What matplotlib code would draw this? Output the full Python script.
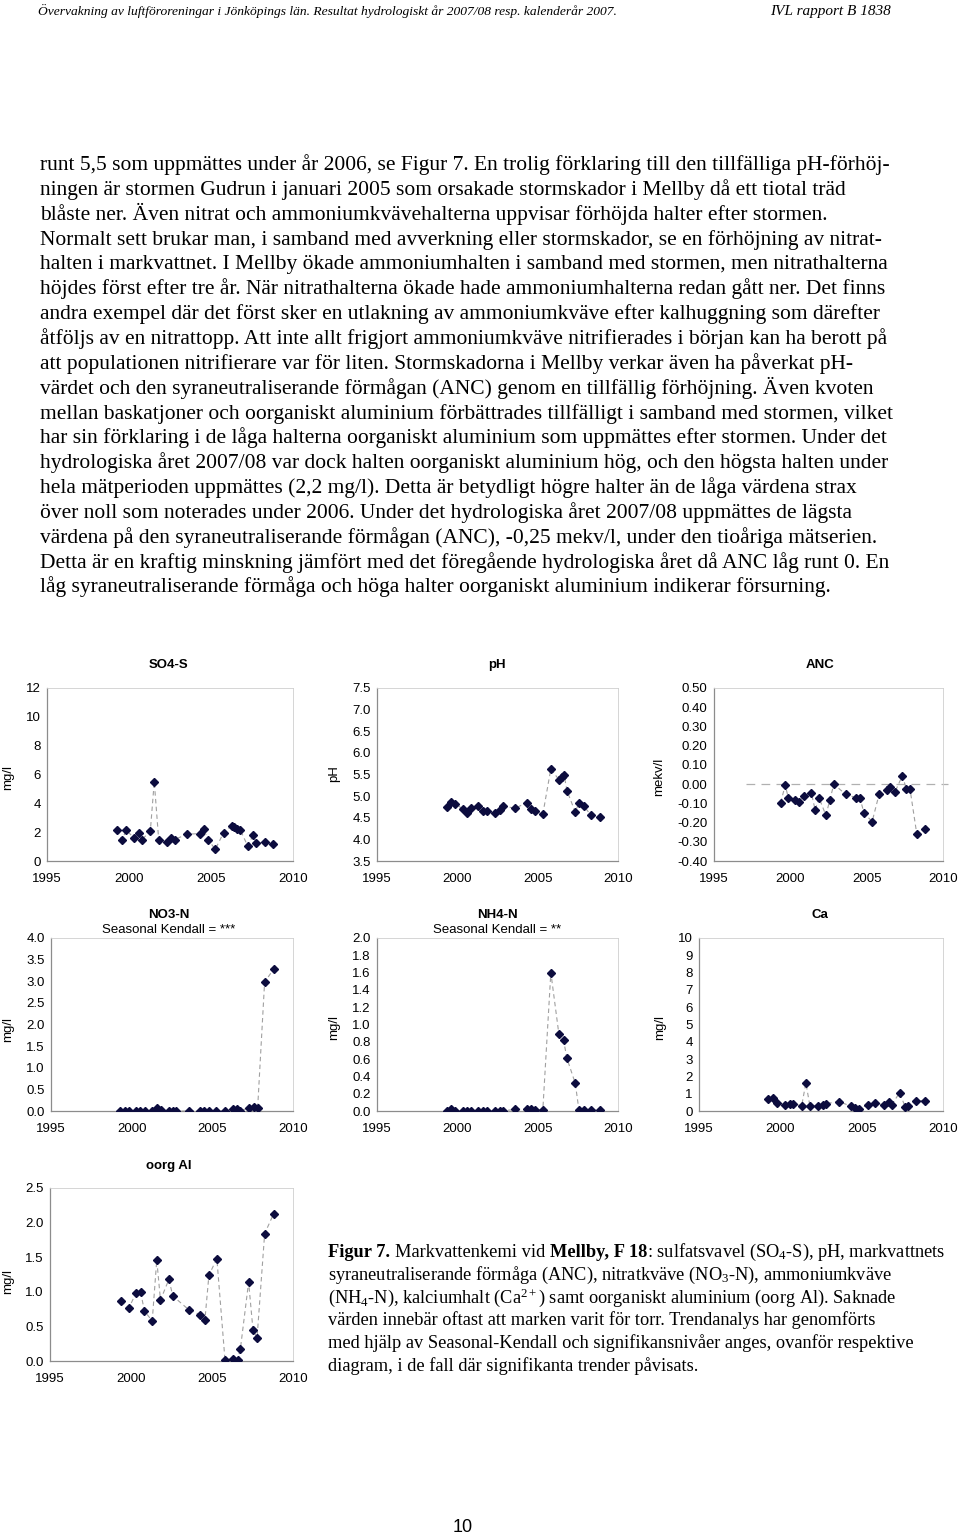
import matplotlib
matplotlib.use('Agg')
import matplotlib.pyplot as plt

plt.rcParams['font.family'] = ['Liberation Sans', 'DejaVu Sans']
plt.rcParams['mathtext.fontset'] = 'custom'
plt.rcParams['mathtext.rm'] = 'Liberation Serif'
plt.rcParams['mathtext.bf'] = 'Liberation Serif:bold'
plt.rcParams['mathtext.it'] = 'Liberation Serif:italic'
plt.rcParams['mathtext.default'] = 'regular'

# ---- chart data ----
so4_years = [1999.27, 1999.57, 1999.84, 2000.28, 2000.59, 2000.79, 2001.30, 2001.54, 2001.81,
             2002.32, 2002.58, 2002.78, 2003.54, 2004.31, 2004.55, 2004.82, 2005.26, 2005.77,
             2006.28, 2006.38, 2006.59, 2006.79, 2007.24, 2007.56, 2007.76, 2008.27, 2008.78]
so4_vals = [2.14, 1.49, 2.14, 1.62, 1.95, 1.49, 2.07, 5.50, 1.49, 1.30, 1.62, 1.49, 1.86, 1.90,
            2.20, 1.49, 0.81, 1.97, 2.46, 2.37, 2.20, 2.14, 1.04, 1.79, 1.25, 1.30, 1.18]

ph_years = [1999.33, 1999.60, 1999.85, 2000.33, 2000.58, 2000.85, 2001.30, 2001.62, 2001.82,
            2002.34, 2002.66, 2002.82, 2003.61, 2004.32, 2004.57, 2004.84, 2005.32, 2005.82,
            2006.32, 2006.52, 2006.65, 2006.82, 2007.34, 2007.57, 2007.86, 2008.31, 2008.85]
ph_vals = [4.75, 4.87, 4.82, 4.71, 4.60, 4.72, 4.77, 4.65, 4.65, 4.61, 4.68, 4.77, 4.72, 4.85,
           4.71, 4.65, 4.58, 5.63, 5.38, 5.45, 5.48, 5.13, 4.63, 4.85, 4.78, 4.56, 4.51]

anc_years = [1999.36, 1999.67, 1999.86, 2000.32, 2000.58, 2000.89, 2001.37, 2001.63, 2001.87,
             2002.33, 2002.59, 2002.85, 2003.63, 2004.29, 2004.55, 2004.83, 2005.36, 2005.81,
             2006.32, 2006.55, 2006.86, 2007.34, 2007.60, 2007.84, 2008.28, 2008.84]
anc_vals = [-0.097, -0.005, -0.070, -0.084, -0.094, -0.061, -0.044, -0.136, -0.070, -0.162,
            -0.082, 0.000, -0.054, -0.070, -0.070, -0.151, -0.195, -0.054, -0.033, -0.017,
            -0.040, 0.044, -0.026, -0.026, -0.258, -0.235]

no3_years = [1999.30, 1999.57, 1999.83, 2000.29, 2000.54, 2000.81, 2001.26, 2001.57, 2001.82,
             2002.29, 2002.56, 2002.77, 2003.57, 2004.26, 2004.50, 2004.77, 2005.25, 2005.81,
             2006.28, 2006.53, 2006.74, 2007.25, 2007.56, 2007.81, 2008.24, 2008.80]
no3_vals = [0.0, 0.0, 0.0, 0.0, 0.0, 0.0, 0.01, 0.07, 0.02, 0.0, 0.0, 0.0, 0.0, 0.0, 0.0, 0.0,
            0.0, 0.0, 0.05, 0.05, 0.0, 0.08, 0.10, 0.08, 2.98, 3.28]

nh4_years = [1999.33, 1999.60, 1999.85, 2000.33, 2000.58, 2000.85, 2001.30, 2001.62, 2001.82,
             2002.34, 2002.66, 2002.82, 2003.61, 2004.32, 2004.57, 2004.84, 2005.32, 2005.82,
             2006.32, 2006.61, 2006.82, 2007.34, 2007.57, 2007.86, 2008.31, 2008.85]
nh4_vals = [0.0, 0.02, 0.0, 0.0, 0.0, 0.0, 0.0, 0.0, 0.0, 0.0, 0.0, 0.0, 0.02, 0.02, 0.02, 0.01,
            0.01, 1.60, 0.89, 0.82, 0.61, 0.32, 0.01, 0.01, 0.01, 0.01]

ca_years = [1999.25, 1999.52, 1999.81, 2000.28, 2000.59, 2000.79, 2001.31, 2001.57, 2001.82,
            2002.34, 2002.60, 2002.81, 2003.59, 2004.33, 2004.60, 2004.86, 2005.36, 2005.85,
            2006.38, 2006.65, 2006.86, 2007.33, 2007.68, 2007.84, 2008.36, 2008.87]
ca_vals = [0.72, 0.77, 0.46, 0.37, 0.43, 0.43, 0.29, 1.62, 0.29, 0.29, 0.35, 0.43, 0.54, 0.29,
           0.17, 0.10, 0.37, 0.48, 0.33, 0.54, 0.37, 1.06, 0.23, 0.27, 0.60, 0.60]

al_years = [1999.37, 1999.88, 2000.30, 2000.60, 2000.83, 2001.31, 2001.59, 2001.82, 2002.34,
            2002.58, 2003.57, 2004.27, 2004.56, 2004.81, 2005.30, 2005.80, 2006.29, 2006.58,
            2006.75, 2007.26, 2007.53, 2007.78, 2008.25, 2008.81]
al_vals = [0.86, 0.77, 0.98, 0.99, 0.72, 0.58, 1.46, 0.88, 1.18, 0.94, 0.74, 0.67, 0.59, 1.24,
           1.48, 0.02, 0.03, 0.02, 0.17, 1.14, 0.45, 0.33, 1.84, 2.13]

year_ticks = [1995, 2000, 2005, 2010]

# ---- page text ----
header_left = ('Övervakning av luftföroreningar i Jönköpings län. '
               'Resultat hydrologiskt år 2007/08 resp. kalenderår 2007.')
header_right = 'IVL rapport B 1838'

body_lines = [
    'runt 5,5 som uppmättes under år 2006, se Figur 7. En trolig förklaring till den tillfälliga pH-förhöj-',
    'ningen är stormen Gudrun i januari 2005 som orsakade stormskador i Mellby då ett tiotal träd',
    'blåste ner. Även nitrat och ammoniumkvävehalterna uppvisar förhöjda halter efter stormen.',
    'Normalt sett brukar man, i samband med avverkning eller stormskador, se en förhöjning av nitrat-',
    'halten i markvattnet. I Mellby ökade ammoniumhalten i samband med stormen, men nitrathalterna',
    'höjdes först efter tre år. När nitrathalterna ökade hade ammoniumhalterna redan gått ner. Det finns',
    'andra exempel där det först sker en utlakning av ammoniumkväve efter kalhuggning som därefter',
    'åtföljs av en nitrattopp. Att inte allt frigjort ammoniumkväve nitrifierades i början kan ha berott på',
    'att populationen nitrifierare var för liten. Stormskadorna i Mellby verkar även ha påverkat pH-',
    'värdet och den syraneutraliserande förmågan (ANC) genom en tillfällig förhöjning. Även kvoten',
    'mellan baskatjoner och oorganiskt aluminium förbättrades tillfälligt i samband med stormen, vilket',
    'har sin förklaring i de låga halterna oorganiskt aluminium som uppmättes efter stormen. Under det',
    'hydrologiska året 2007/08 var dock halten oorganiskt aluminium hög, och den högsta halten under',
    'hela mätperioden uppmättes (2,2 mg/l). Detta är betydligt högre halter än de låga värdena strax',
    'över noll som noterades under 2006. Under det hydrologiska året 2007/08 uppmättes de lägsta',
    'värdena på den syraneutraliserande förmågan (ANC), -0,25 mekv/l, under den tioåriga mätserien.',
    'Detta är en kraftig minskning jämfört med det föregående hydrologiska året då ANC låg runt 0. En',
    'låg syraneutraliserande förmåga och höga halter oorganiskt aluminium indikerar försurning.',
]

# first caption line: (text, bold) pieces
caption_first = [
    ('Figur 7.', True),
    ('Markvattenkemi vid', False),
    ('Mellby, F 18', True),
    (': sulfatsvavel (SO$_4$-S), pH, markvattnets', False),
]
caption_first_gap = [True, True, False]   # space after piece i?

caption_lines = [
    r'syraneutraliserande förmåga (ANC), nitratkväve (NO$_3$-N), ammoniumkväve',
    r'(NH$_4$-N), kalciumhalt (Ca$^{2+}$) samt oorganiskt aluminium (oorg Al). Saknade',
    'värden innebär oftast att marken varit för torr. Trendanalys har genomförts',
    'med hjälp av Seasonal-Kendall och signifikansnivåer anges, ovanför respektive',
    'diagram, i de fall där signifikanta trender påvisats.',
]

W, H = 960, 1536
FS = 9.5
CAP_FS = 13.2
fig = plt.figure(figsize=(W / 100, H / 100), dpi=100)
fig.patch.set_facecolor('white')
renderer = fig.canvas.get_renderer()


def fy(y):
    # pixel row -> figure fraction
    return 1 - y / H


def panel(box, years, vals, ylim, yticks, fmt, title, title_xy, ylabel, ylabel_xy,
          subtitle=None, zero_line=False):
    left, top, right, bottom = box
    ax = fig.add_axes([left / W, fy(bottom), (right - left) / W, (bottom - top) / H])
    ax.plot(years, vals, ls=(0, (4, 3)), color='#a0a0a0', lw=0.8, zorder=2)
    ax.plot(years, vals, ls='none', marker='D', ms=4.1, color='#0c0c3e', zorder=3)
    ax.set_xlim(1995, 2010)
    ax.set_xticks(year_ticks)
    ax.set_ylim(*ylim)
    ax.set_yticks(yticks)
    ax.set_yticklabels([fmt.format(v) for v in yticks])
    ax.tick_params(axis='both', length=0, labelsize=FS)
    ax.tick_params(axis='x', pad=9)
    ax.tick_params(axis='y', pad=4.5)
    for s in ['left', 'bottom']:
        ax.spines[s].set_color('#8c8c8c')
        ax.spines[s].set_linewidth(0.9)
    for s in ['top', 'right']:
        ax.spines[s].set_color('#cfcfcf')
        ax.spines[s].set_linewidth(0.6)
    if zero_line:
        ax.plot([1997.1, 2010.3], [0, 0], ls=(0, (7, 5)), color='#b0b0b0', lw=0.9,
                clip_on=False, zorder=1)
    fig.text(title_xy[0] / W, fy(title_xy[1]), title, ha='center', va='center',
             fontsize=FS, fontweight='bold')
    if subtitle:
        fig.text(title_xy[0] / W, fy(title_xy[1] + 15), subtitle, ha='center', va='center',
                 fontsize=FS)
    fig.text(ylabel_xy[0] / W, fy(ylabel_xy[1]), ylabel, ha='center', va='center',
             rotation=90, fontsize=FS)
    return ax


panel((47, 688, 293, 861), so4_years, so4_vals, (0, 12), [0, 2, 4, 6, 8, 10, 12], '{:.0f}',
      'SO4-S', (168, 665), 'mg/l', (8, 777))
panel((377, 688, 618, 861), ph_years, ph_vals, (3.5, 7.5),
      [3.5, 4.0, 4.5, 5.0, 5.5, 6.0, 6.5, 7.0, 7.5], '{:.1f}',
      'pH', (497, 665), 'pH', (334, 774))
panel((714, 688, 943, 861), anc_years, anc_vals, (-0.4, 0.5),
      [-0.4, -0.3, -0.2, -0.1, 0.0, 0.1, 0.2, 0.3, 0.4, 0.5], '{:.2f}',
      'ANC', (820, 665), 'mekv/l', (659, 777), zero_line=True)
panel((51, 938, 293, 1111), no3_years, no3_vals, (0, 4),
      [0, 0.5, 1.0, 1.5, 2.0, 2.5, 3.0, 3.5, 4.0], '{:.1f}',
      'NO3-N', (169, 915), 'mg/l', (8, 1029), subtitle='Seasonal Kendall = ***')
panel((377, 938, 618, 1111), nh4_years, nh4_vals, (0, 2),
      [0, 0.2, 0.4, 0.6, 0.8, 1.0, 1.2, 1.4, 1.6, 1.8, 2.0], '{:.1f}',
      'NH4-N', (497, 915), 'mg/l', (334, 1027), subtitle='Seasonal Kendall = **')
panel((699, 938, 943, 1111), ca_years, ca_vals, (0, 10), list(range(0, 11)), '{:.0f}',
      'Ca', (820, 915), 'mg/l', (660, 1027))
panel((50, 1188, 293, 1361), al_years, al_vals, (0, 2.5),
      [0, 0.5, 1.0, 1.5, 2.0, 2.5], '{:.1f}',
      'oorg Al', (169, 1166), 'mg/l', (8, 1282))

# header
fig.text(38 / W, fy(15), header_left, ha='left', va='baseline', fontsize=9.7,
         family='Liberation Serif', style='italic')
fig.text(770 / W, fy(15), header_right, ha='left', va='baseline', fontsize=11,
         family='Liberation Serif', style='italic')

# body text
for i, line in enumerate(body_lines):
    fig.text(40 / W, fy(170 + i * 24.85), line, ha='left', va='baseline', fontsize=15.5,
             family='Liberation Serif')

# caption, first line built piece by piece (bold + regular runs)
probe = fig.text(0, 0, 'a a', fontsize=CAP_FS, family='Liberation Serif')
w_aa = fig.text(0, 0, 'aa', fontsize=CAP_FS, family='Liberation Serif')
space_px = (probe.get_window_extent(renderer).width - w_aa.get_window_extent(renderer).width)
probe.remove()
w_aa.remove()

x_px = 328
for i, (piece, bold) in enumerate(caption_first):
    t = fig.text(x_px / W, fy(1257), piece, ha='left', va='baseline', fontsize=CAP_FS,
                 family='Liberation Serif', fontweight='bold' if bold else 'normal')
    x_px += t.get_window_extent(renderer).width
    if i < len(caption_first_gap) and caption_first_gap[i]:
        x_px += space_px

for i, line in enumerate(caption_lines):
    fig.text(328 / W, fy(1257 + (i + 1) * 22.8), line, ha='left', va='baseline',
             fontsize=CAP_FS, family='Liberation Serif')

# page number
fig.text(463 / W, fy(1527), '10', ha='center', va='center', fontsize=13)

fig.savefig('out.png', dpi=100, facecolor='white')
